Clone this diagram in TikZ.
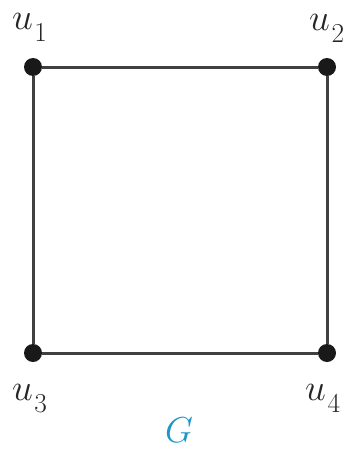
\documentclass[tikz,border=0pt]{standalone}
\newcommand\vlab[1]{\scalebox{1.5}{$u$}\kern1.5pt\raisebox{-12pt}{\scalebox{1.1}{$#1$}}}
\begin{document}
\begin{tikzpicture}[x=1pt,y=-1pt,
  vtx/.style={circle,fill=black!90,inner sep=0pt,minimum size=18pt},
  edge/.style={line width=3pt,draw=black!75},
  lbl/.style={font=\Huge,inner sep=0pt,anchor=base west,text=black!85}]
\useasboundingbox (0,0) rectangle (356,450);
\definecolor{gcol}{RGB}{30,150,200}
\node[vtx] (u1) at (33,67) {};
\node[vtx] (u2) at (327,67) {};
\node[vtx] (u3) at (33,353) {};
\node[vtx] (u4) at (327,353) {};
\draw[edge] (u1) -- (u2) -- (u4) -- (u3) -- (u1);
\node[lbl] (l1) at (12,29) {\vlab{1}};
\node[lbl] (l2) at (309,30) {\vlab{2}};
\node[lbl] (l3) at (12,400) {\vlab{3}};
\node[lbl] (l4) at (305,400) {\vlab{4}};
\node[font=\Huge,inner sep=0pt,text=gcol] (g) at (179,430) {\scalebox{1.45}{$G$}};
\end{tikzpicture}
\end{document}
